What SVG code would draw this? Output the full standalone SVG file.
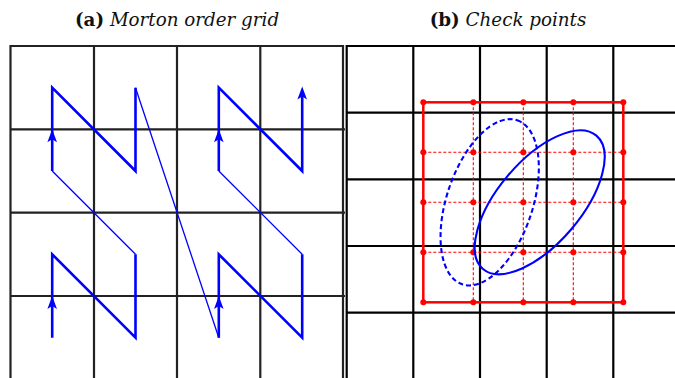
<svg xmlns="http://www.w3.org/2000/svg" width="675" height="378" viewBox="0 0 675 378">
<style>
.title{font-family:"DejaVu Serif","Liberation Serif",serif;font-size:18.3px;fill:#111}
.b{font-weight:bold;font-style:normal}
.i{font-style:italic}
.gridA{stroke:#222;stroke-width:2.2;fill:none}
.gridB{stroke:#000;stroke-width:2.2;fill:none}
.thick{stroke:#0000ff;stroke-width:2.6;fill:none;stroke-linejoin:miter}
.thin{stroke:#0000ff;stroke-width:1.3;fill:none}
.rbox{stroke:#ff0000;stroke-width:2.5;fill:none}
.rdash{stroke:#ff0000;stroke-width:1.1;stroke-dasharray:3 2;fill:none}
.dot{fill:#ff0000}
.ell{stroke:#0000ff;stroke-width:2.1;fill:none}
.elld{stroke:#0000ff;stroke-width:2.1;fill:none;stroke-dasharray:5 3}
</style>
<defs>
<path id="ah" d="M0,0 L4.8,13 L0,10 L-4.8,13 Z" fill="#0000ff"/>
</defs>
<rect width="675" height="378" fill="#fff"/>
<g id="titles">
<text class="title" x="177" y="26" text-anchor="middle"><tspan class="b">(a)</tspan> <tspan class="i">Morton order grid</tspan></text>
<text class="title" x="508" y="26" text-anchor="middle"><tspan class="b">(b)</tspan> <tspan class="i">Check points</tspan></text>
</g>
<g id="gridA">
<path class="gridA" d="M10.5,380 V46 H343 V380 M94,46 V380 M177,46 V380 M260.3,46 V380 M10.5,129.3 H345 M10.5,212.7 H345 M10.5,296 H345"/>
</g>
<g id="morton">
<path class="thick" d="M52.2,337.7 V254.3 L135.5,337.7 V254.3"/>
<path class="thin" d="M135.5,254.3 L52.2,171"/>
<path class="thick" d="M52.2,171 V87.7 L135.5,171 V87.7"/>
<path class="thin" d="M135.5,87.7 L218.8,337.7"/>
<path class="thick" d="M218.8,337.7 V254.3 L302.2,337.7 V254.3"/>
<path class="thin" d="M302.2,254.3 L218.8,171"/>
<path class="thick" d="M218.8,171 V87.7 L302.2,171 V95"/>
<use href="#ah" x="52.2" y="296"/>
<use href="#ah" x="52.2" y="129.3"/>
<use href="#ah" x="218.8" y="296"/>
<use href="#ah" x="218.8" y="129.3"/>
<use href="#ah" x="302.2" y="86.5"/>
</g>
<g id="gridB">
<path class="gridB" d="M346.7,380 V46 H680 M413.3,46 V380 M480,46 V380 M546.7,46 V380 M613.3,46 V380 M346.7,112.7 H680 M346.7,179.3 H680 M346.7,246 H680 M346.7,312.7 H680"/>
</g>
<g id="checkpoints">
<path class="rdash" d="M473.3,102.3 V302.3 M523.3,102.3 V302.3 M573.3,102.3 V302.3 M423.3,152.3 H623.3 M423.3,202.3 H623.3 M423.3,252.3 H623.3"/>
<rect class="rbox" x="423.3" y="102.3" width="200" height="200"/>
<g class="dot">
<circle cx="423.3" cy="102.3" r="3"/><circle cx="473.3" cy="102.3" r="3"/><circle cx="523.3" cy="102.3" r="3"/><circle cx="573.3" cy="102.3" r="3"/><circle cx="623.3" cy="102.3" r="3"/>
<circle cx="423.3" cy="152.3" r="3"/><circle cx="473.3" cy="152.3" r="3"/><circle cx="523.3" cy="152.3" r="3"/><circle cx="573.3" cy="152.3" r="3"/><circle cx="623.3" cy="152.3" r="3"/>
<circle cx="423.3" cy="202.3" r="3"/><circle cx="473.3" cy="202.3" r="3"/><circle cx="523.3" cy="202.3" r="3"/><circle cx="573.3" cy="202.3" r="3"/><circle cx="623.3" cy="202.3" r="3"/>
<circle cx="423.3" cy="252.3" r="3"/><circle cx="473.3" cy="252.3" r="3"/><circle cx="523.3" cy="252.3" r="3"/><circle cx="573.3" cy="252.3" r="3"/><circle cx="623.3" cy="252.3" r="3"/>
<circle cx="423.3" cy="302.3" r="3"/><circle cx="473.3" cy="302.3" r="3"/><circle cx="523.3" cy="302.3" r="3"/><circle cx="573.3" cy="302.3" r="3"/><circle cx="623.3" cy="302.3" r="3"/>
</g>
</g>
<g id="ellipses">
<ellipse class="elld" cx="0" cy="0" rx="86.5" ry="43" transform="translate(489.7,202.3) rotate(-71.5)"/>
<ellipse class="ell" cx="0" cy="0" rx="87.5" ry="41.5" transform="translate(539.7,202.3) rotate(-49.6)"/>
</g>
</svg>
